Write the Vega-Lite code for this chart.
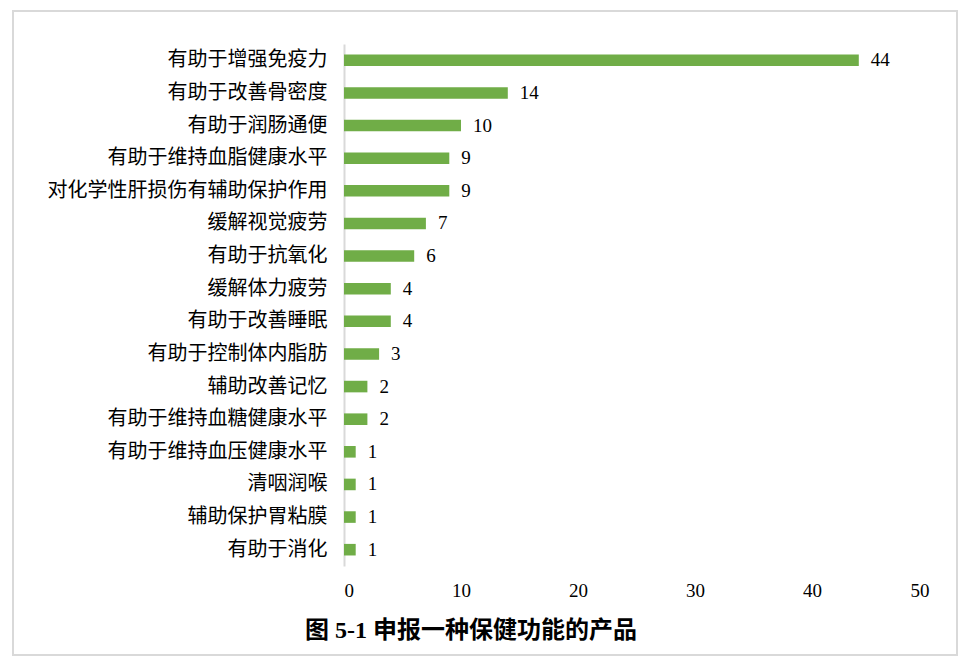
{
  "$schema": "https://vega.github.io/schema/vega-lite/v6.json",
  "width": 944,
  "height": 644,
  "autosize": {"type": "none"},
  "padding": {"left": 13, "top": 11, "right": 10, "bottom": 15},
  "background": "white",
  "config": {
    "view": {"stroke": "#d9d9d9", "strokeWidth": 2},
    "axis": {"grid": false}
  },
  "title": {
    "text": "图 5-1 申报一种保健功能的产品",
    "orient": "bottom",
    "anchor": "middle",
    "offset": -36,
    "dx": -14,
    "font": "Liberation Serif, Noto Sans CJK SC",
    "fontSize": 24,
    "fontWeight": "bold",
    "color": "#000"
  },
  "data": {
    "values": [
      {"name": "有助于增强免疫力", "value": 44},
      {"name": "有助于改善骨密度", "value": 14},
      {"name": "有助于润肠通便", "value": 10},
      {"name": "有助于维持血脂健康水平", "value": 9},
      {"name": "对化学性肝损伤有辅助保护作用", "value": 9},
      {"name": "缓解视觉疲劳", "value": 7},
      {"name": "有助于抗氧化", "value": 6},
      {"name": "缓解体力疲劳", "value": 4},
      {"name": "有助于改善睡眠", "value": 4},
      {"name": "有助于控制体内脂肪", "value": 3},
      {"name": "辅助改善记忆", "value": 2},
      {"name": "有助于维持血糖健康水平", "value": 2},
      {"name": "有助于维持血压健康水平", "value": 1},
      {"name": "清咽润喉", "value": 1},
      {"name": "辅助保护胃粘膜", "value": 1},
      {"name": "有助于消化", "value": 1}
    ]
  },
  "encoding": {
    "y": {
      "field": "name",
      "type": "nominal",
      "sort": ["有助于增强免疫力", "有助于改善骨密度", "有助于润肠通便", "有助于维持血脂健康水平", "对化学性肝损伤有辅助保护作用", "缓解视觉疲劳", "有助于抗氧化", "缓解体力疲劳", "有助于改善睡眠", "有助于控制体内脂肪", "辅助改善记忆", "有助于维持血糖健康水平", "有助于维持血压健康水平", "清咽润喉", "辅助保护胃粘膜", "有助于消化"],
      "scale": {"range": [33, 555], "paddingInner": 0.645, "paddingOuter": 0.3225},
      "axis": {
        "title": null,
        "offset": -331,
        "domainColor": "#d9d9d9",
        "domainWidth": 2,
        "ticks": false,
        "labelPadding": 17,
        "labelFont": "Noto Sans CJK SC",
        "labelFontSize": 20,
        "labelColor": "#000",
        "labelLimit": 0
      }
    },
    "x": {
      "field": "value",
      "type": "quantitative",
      "scale": {"domain": [0, 50], "range": [331, 916]},
      "axis": {
        "title": null,
        "orient": "bottom",
        "offset": -80,
        "domain": false,
        "ticks": false,
        "values": [0, 10, 20, 30, 40, 50],
        "labelPadding": 6,
        "labelFont": "Liberation Serif",
        "labelFontSize": 19,
        "labelColor": "#000"
      }
    }
  },
  "layer": [
    {"mark": {"type": "bar", "color": "#70AD47"}},
    {
      "mark": {"type": "text", "align": "left", "baseline": "middle", "dx": 12, "font": "Liberation Serif", "fontSize": 19, "color": "#000"},
      "encoding": {"text": {"field": "value", "type": "quantitative"}}
    }
  ]
}
